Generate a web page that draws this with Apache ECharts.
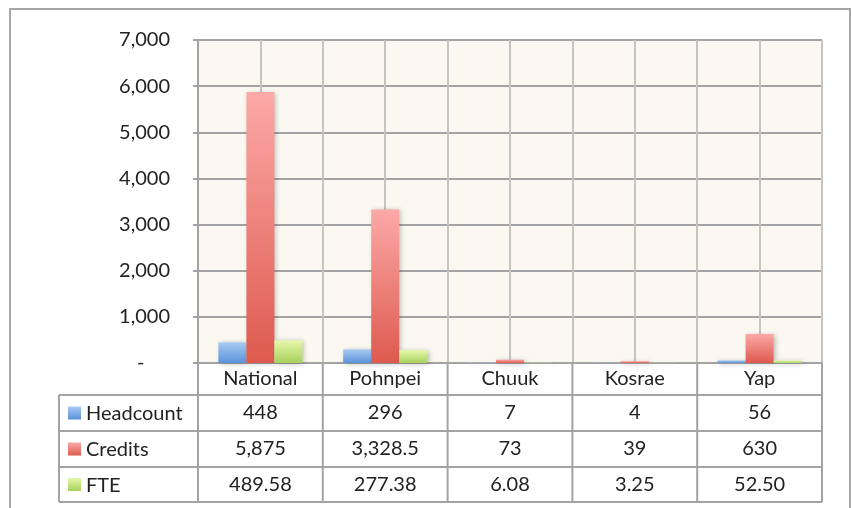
<!DOCTYPE html>
<html>
<head>
<meta charset="utf-8">
<script src="https://cdn.jsdelivr.net/npm/echarts@6/dist/echarts.min.js"></script>
<style>
  html, body { margin: 0; padding: 0; background: #fff; }
  #chart { width: 851px; height: 508px; }
</style>
</head>
<body>
<div id="chart"></div>
<script>
// data
const categories = ['National', 'Pohnpei', 'Chuuk', 'Kosrae', 'Yap'];
const headcount = [448, 296, 7, 4, 56];
const credits = [5875, 3328.5, 73, 39, 630];
const fte = [489.58, 277.38, 6.08, 3.25, 52.5];
const seriesNames = ['Headcount', 'Credits', 'FTE'];
const yMax = 7000;
const yStep = 1000;

// colours (top, bottom of gradient)
const colors = [
  ['#aacaf3', '#5a93da'],
  ['#fca9a7', '#de5a4f'],
  ['#e6f8ab', '#a8d15c']
];

// layout
const L = 198, R = 822, TOP = 40, AXIS_Y = 363;
const ROWS = [363, 395, 431, 467, 502];
const KEY_LEFT = 59;
const FONT = 'Lato, "Open Sans", sans-serif';
const FS = 20;
const LINE = '#a3a3a3';

const fmtHead = v => v.toLocaleString('en-US');
const fmtCred = v => v.toLocaleString('en-US', { maximumFractionDigits: 1 });
const fmtFte = v => v.toFixed(2);

const tableRows = [
  headcount.map(fmtHead),
  credits.map(fmtCred),
  fte.map(fmtFte)
];

function grad(c) {
  return new echarts.graphic.LinearGradient(0, 0, 0, 1, [
    { offset: 0, color: c[0] },
    { offset: 1, color: c[1] }
  ]);
}

const chart = echarts.init(document.getElementById('chart'));

const MARGIN = 6;
const labelAxes = tableRows.map((row, i) => {
  const center = (ROWS[i + 1] + ROWS[i + 2]) / 2;
  return {
    type: 'category',
    data: row,
    position: 'bottom',
    offset: center - FS / 2 - AXIS_Y - MARGIN,
    axisLine: { show: false },
    axisTick: { show: false },
    splitLine: { show: false },
    axisLabel: { margin: MARGIN, fontFamily: FONT, fontSize: FS, color: '#222', interval: 0 }
  };
});

// table borders
const graphics = [];
const colW = (R - L) / categories.length;
[ROWS[1], ROWS[2], ROWS[3], ROWS[4]].forEach(y => {
  graphics.push({ type: 'line', shape: { x1: KEY_LEFT, y1: y, x2: R, y2: y }, style: { stroke: LINE, lineWidth: 2 } });
});
for (let i = 0; i <= categories.length; i++) {
  const x = L + i * colW;
  graphics.push({ type: 'line', shape: { x1: x, y1: ROWS[0], x2: x, y2: ROWS[4] }, style: { stroke: LINE, lineWidth: 2 } });
}
graphics.push({ type: 'line', shape: { x1: KEY_LEFT, y1: ROWS[1], x2: KEY_LEFT, y2: ROWS[4] }, style: { stroke: LINE, lineWidth: 2 } });

// legend keys in table
seriesNames.forEach((name, i) => {
  const cy = (ROWS[i + 1] + ROWS[i + 2]) / 2;
  graphics.push({
    type: 'rect',
    shape: { x: 68, y: cy - 6.5, width: 13, height: 13 },
    style: { fill: grad(colors[i]) }
  });
  graphics.push({
    type: 'text',
    style: { x: 86, y: cy + 1, text: name, fontFamily: FONT, fontSize: FS, fill: '#222', verticalAlign: 'middle' }
  });
});

// outer border
graphics.push({
  type: 'rect',
  shape: { x: 10, y: 9, width: 840, height: 520 },
  style: { fill: null, stroke: '#a6a6a6', lineWidth: 2 },
  z: 10
});

chart.setOption({
  animation: false,
  grid: {
    left: L, right: 851 - R, top: TOP, bottom: 508 - AXIS_Y,
    show: true, backgroundColor: '#faf8f1', borderWidth: 0
  },
  xAxis: [
    {
      type: 'category',
      data: categories,
      position: 'bottom',
      axisLine: { lineStyle: { color: LINE, width: 2 } },
      axisTick: { show: false },
      splitLine: { show: false },
      axisLabel: { margin: MARGIN, fontFamily: FONT, fontSize: FS, color: '#222', interval: 0 }
    },
    // half-category grid lines
    {
      type: 'value',
      min: 0, max: categories.length * 2, interval: 1,
      position: 'top',
      axisLine: { show: false },
      axisTick: { show: false },
      axisLabel: { show: false },
      splitLine: { show: true, lineStyle: { color: '#c4c4c4', width: 2 } }
    }
  ].concat(labelAxes),
  yAxis: {
    type: 'value',
    min: 0, max: yMax, interval: yStep,
    axisLine: { show: true, lineStyle: { color: LINE, width: 2 } },
    axisTick: { show: true, length: 5, lineStyle: { color: LINE, width: 2 } },
    splitLine: { show: true, lineStyle: { color: LINE, width: 2 } },
    axisLabel: {
      margin: 28, fontFamily: FONT, fontSize: FS, color: '#222',
      formatter: v => v === 0 ? '-     ' : v.toLocaleString('en-US')
    }
  },
  series: [headcount, credits, fte].map((d, i) => ({
    name: seriesNames[i],
    type: 'bar',
    xAxisIndex: 0,
    data: d,
    barWidth: 28,
    barGap: '0%',
    itemStyle: {
      color: grad(colors[i]),
      shadowBlur: 5,
      shadowColor: 'rgba(0,0,0,0.25)',
      shadowOffsetX: 2,
      shadowOffsetY: 1
    }
  })),
  graphic: graphics
});
</script>
</body>
</html>
